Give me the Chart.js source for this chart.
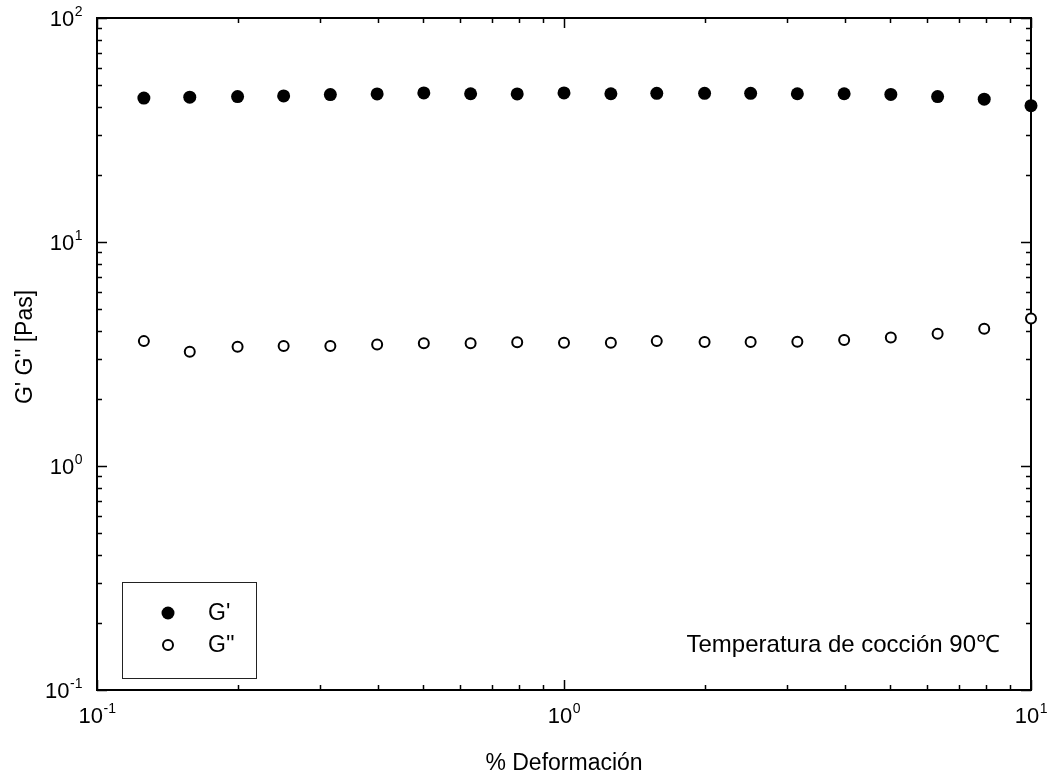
<!DOCTYPE html>
<html>
<head>
<meta charset="utf-8">
<script src="https://cdn.jsdelivr.net/npm/chart.js@4.4.1/dist/chart.umd.min.js"></script>
<style>
  html, body { margin: 0; padding: 0; background: #fff; }
  #c { display: block; }
</style>
</head>
<body>
<canvas id="c" width="1055" height="782"></canvas>
<script>
// Strain sweep at 90 °C: storage (G') and loss (G'') moduli
const strain = [0.126, 0.158, 0.2, 0.251, 0.316, 0.398, 0.501, 0.631, 0.794, 1.0,
                1.26, 1.58, 2.0, 2.51, 3.16, 3.98, 5.01, 6.31, 7.94, 10.0];
const gPrime = [43.9, 44.3, 44.6, 44.9, 45.5, 45.8, 46.3, 45.9, 45.8, 46.3,
                45.9, 46.1, 46.1, 46.1, 45.9, 45.9, 45.6, 44.6, 43.4, 40.6];
const gDoublePrime = [3.61, 3.24, 3.41, 3.43, 3.43, 3.49, 3.53, 3.53, 3.57, 3.55,
                      3.55, 3.61, 3.58, 3.58, 3.59, 3.65, 3.75, 3.89, 4.10, 4.56];

// Axis decades and their exponent labels
const xDecades = [0.1, 1, 10];
const xExponents = ['-1', '0', '1'];
const yDecades = [0.1, 1, 10, 100];
const yExponents = ['-1', '0', '1', '2'];
const minorSteps = [2, 3, 4, 5, 6, 7, 8, 9];

const seriesNames = ["G'", "G''"];
const xTitle = '% Deformación';
const yTitle = "G' G'' [Pas]";
const note = 'Temperatura de cocción 90℃';

const FONT = '"Liberation Sans", Arial, Helvetica, sans-serif';

function toPoints(xs, ys) {
  return xs.map((v, i) => ({ x: v, y: ys[i] }));
}

function minorValues(decades) {
  const out = [];
  decades.slice(0, -1).forEach(d => minorSteps.forEach(m => out.push(d * m)));
  return out;
}

// Base-10 label with a raised exponent
function drawPower(ctx, exp, x, baseline, align) {
  ctx.font = '22px ' + FONT;
  const wb = ctx.measureText('10').width;
  ctx.font = '14px ' + FONT;
  const we = ctx.measureText(exp).width;
  const w = wb + we;
  const start = align === 'right' ? x - w : x - w / 2;
  ctx.textAlign = 'left';
  ctx.textBaseline = 'alphabetic';
  ctx.font = '22px ' + FONT;
  ctx.fillText('10', start, baseline);
  ctx.font = '14px ' + FONT;
  ctx.fillText(exp, start + wb + 0.5, baseline - 10);
}

const framePlugin = {
  id: 'frameAndTicks',
  beforeDatasetsDraw(chart) {
    const { ctx, chartArea: a, scales: { x, y } } = chart;
    ctx.save();
    ctx.strokeStyle = '#000';
    ctx.lineWidth = 1.5;
    ctx.beginPath();
    const vTicks = (vals, len) => vals.forEach(v => {
      const px = Math.round(x.getPixelForValue(v)) + 0.5;
      ctx.moveTo(px, a.bottom); ctx.lineTo(px, a.bottom - len);
      ctx.moveTo(px, a.top); ctx.lineTo(px, a.top + len);
    });
    const hTicks = (vals, len) => vals.forEach(v => {
      const py = Math.round(y.getPixelForValue(v)) + 0.5;
      ctx.moveTo(a.left, py); ctx.lineTo(a.left + len, py);
      ctx.moveTo(a.right, py); ctx.lineTo(a.right - len, py);
    });
    vTicks(minorValues(xDecades), 5);
    vTicks(xDecades, 10);
    hTicks(minorValues(yDecades), 5);
    hTicks(yDecades, 10);
    ctx.stroke();
    ctx.lineWidth = 2;
    ctx.strokeRect(a.left, a.top, a.right - a.left, a.bottom - a.top);
    ctx.restore();
  },
  afterDraw(chart) {
    const { ctx, chartArea: a, scales: { x, y } } = chart;
    ctx.save();
    ctx.fillStyle = '#000';
    // tick labels
    yDecades.forEach((v, i) => drawPower(ctx, yExponents[i], 82, y.getPixelForValue(v) + 8, 'right'));
    xDecades.forEach((v, i) => drawPower(ctx, xExponents[i], x.getPixelForValue(v), 723, 'center'));

    // axis titles
    ctx.font = '23px ' + FONT;
    ctx.textAlign = 'center';
    ctx.textBaseline = 'middle';
    ctx.fillText(xTitle, (a.left + a.right) / 2, 764);
    ctx.save();
    ctx.translate(26, 347);
    ctx.rotate(-Math.PI / 2);
    ctx.fillText(yTitle, 0, 0);
    ctx.restore();

    // annotation
    ctx.font = '24px ' + FONT;
    ctx.textAlign = 'right';
    ctx.fillText(note, 1000, 645);

    // legend box
    ctx.strokeStyle = '#222';
    ctx.lineWidth = 1;
    ctx.strokeRect(122.5, 582.5, 134, 96);
    const ds = chart.data.datasets;
    [613, 645].forEach((ly, i) => {
      const d = ds[i];
      ctx.beginPath();
      ctx.arc(168, ly, d.pointRadius, 0, Math.PI * 2);
      ctx.fillStyle = d.pointBackgroundColor;
      ctx.fill();
      if (d.pointBorderWidth) {
        ctx.lineWidth = d.pointBorderWidth;
        ctx.strokeStyle = d.pointBorderColor;
        ctx.stroke();
      }
      ctx.fillStyle = '#000';
      ctx.font = '23px ' + FONT;
      ctx.textAlign = 'left';
      ctx.fillText(d.label, 208, ly + 1);
    });
    ctx.restore();
  }
};

new Chart(document.getElementById('c'), {
  type: 'scatter',
  data: {
    datasets: [
      {
        label: seriesNames[0],
        data: toPoints(strain, gPrime),
        pointRadius: 6.5,
        pointBackgroundColor: '#000',
        pointBorderColor: '#000',
        pointBorderWidth: 0,
        clip: false
      },
      {
        label: seriesNames[1],
        data: toPoints(strain, gDoublePrime),
        pointRadius: 5,
        pointBackgroundColor: '#fff',
        pointBorderColor: '#000',
        pointBorderWidth: 2,
        clip: false
      }
    ]
  },
  options: {
    responsive: false,
    animation: false,
    devicePixelRatio: 1,
    layout: { padding: { left: 97, right: 24, top: 18, bottom: 92 } },
    scales: {
      x: { type: 'logarithmic', min: 0.1, max: 10, display: false },
      y: { type: 'logarithmic', min: 0.1, max: 100, display: false }
    },
    plugins: { legend: { display: false }, tooltip: { enabled: false } },
    elements: { point: { hoverRadius: 6 } }
  },
  plugins: [framePlugin]
});
</script>
</body>
</html>
